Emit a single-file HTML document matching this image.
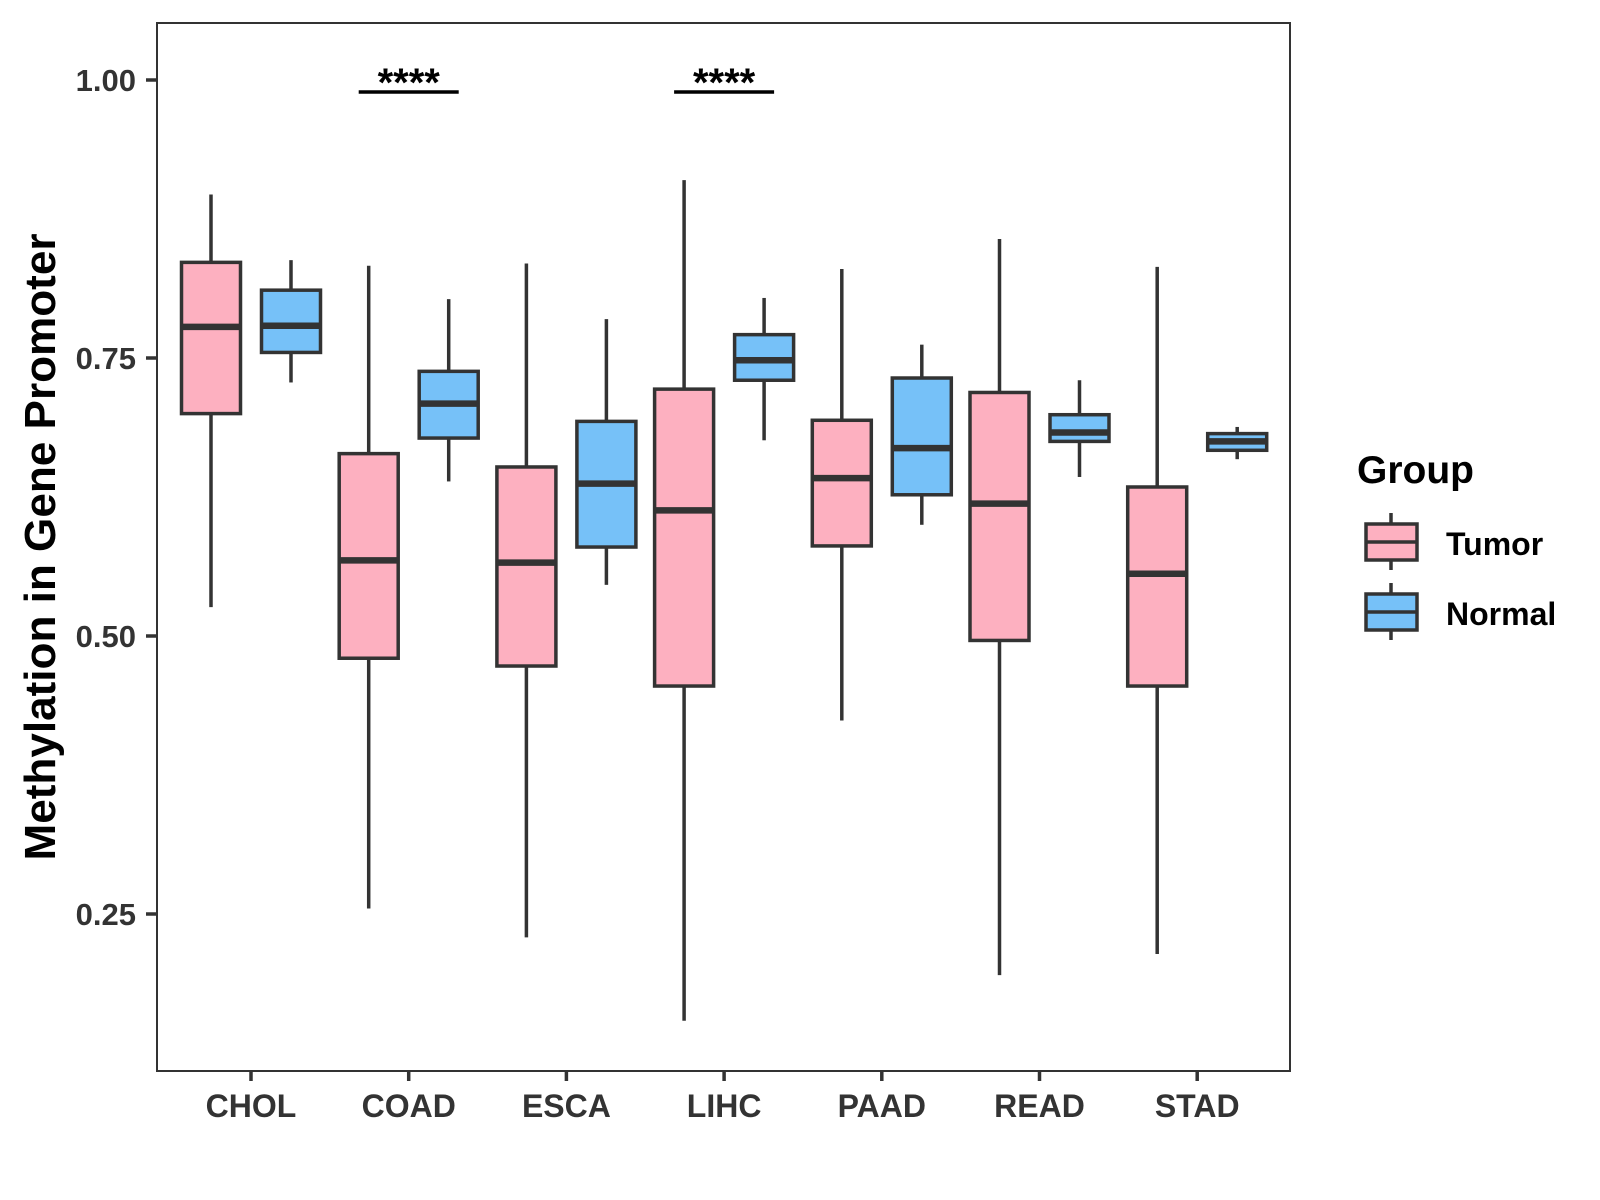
<!DOCTYPE html>
<html><head><meta charset="utf-8"><style>
html,body{margin:0;padding:0;background:#fff;}
svg{display:block;font-family:"Liberation Sans",Arial,sans-serif;}
</style></head><body>
<svg id="chart" width="1600" height="1200" viewBox="0 0 1600 1200" xmlns="http://www.w3.org/2000/svg">
<rect x="157" y="23" width="1133" height="1048" fill="#fff" stroke="#333" stroke-width="2"/>
<g id="marks"></g>
<g id="axes"></g>
<text transform="translate(55,547) rotate(-90)" text-anchor="middle" font-size="44" font-weight="bold" fill="#000" textLength="627" lengthAdjust="spacingAndGlyphs">Methylation in Gene Promoter</text>
<g>
<text x="1357" y="483" font-size="39" font-weight="bold" fill="#000">Group</text>
<line x1="1391" y1="513" x2="1391" y2="570" stroke="#333" stroke-width="3.5"/>
<rect x="1366" y="524" width="51" height="36" fill="#FDB0C0" stroke="#333" stroke-width="3.5"/>
<line x1="1366" y1="542" x2="1417" y2="542" stroke="#333" stroke-width="3.5"/>
<text x="1446" y="555" font-size="32" font-weight="bold" fill="#000">Tumor</text>
<line x1="1391" y1="583" x2="1391" y2="640" stroke="#333" stroke-width="3.5"/>
<rect x="1366" y="594" width="51" height="36" fill="#76C1F8" stroke="#333" stroke-width="3.5"/>
<line x1="1366" y1="612" x2="1417" y2="612" stroke="#333" stroke-width="3.5"/>
<text x="1446" y="625" font-size="32" font-weight="bold" fill="#000">Normal</text>
</g>
</svg>
<script>
const categories = ["CHOL","COAD","ESCA","LIHC","PAAD","READ","STAD"];
// [lowWhisker, q1, median, q3, highWhisker]
const tumorStats = [
 [0.526,0.700,0.778,0.836,0.897],
 [0.255,0.480,0.568,0.664,0.833],
 [0.229,0.473,0.566,0.652,0.835],
 [0.154,0.455,0.613,0.722,0.910],
 [0.424,0.581,0.642,0.694,0.830],
 [0.195,0.496,0.619,0.719,0.857],
 [0.214,0.455,0.556,0.634,0.832]
];
const normalStats = [
 [0.728,0.755,0.779,0.811,0.838],
 [0.639,0.678,0.709,0.738,0.803],
 [0.546,0.580,0.637,0.693,0.785],
 [0.676,0.730,0.748,0.771,0.804],
 [0.600,0.627,0.669,0.732,0.762],
 [0.643,0.675,0.683,0.699,0.730],
 [0.659,0.667,0.675,0.682,0.688]
];
const yTicks = [0.25,0.50,0.75,1.00];
const yTickLabels = ["0.25","0.50","0.75","1.00"];
const sigCategories = ["COAD","LIHC"];
const sigLabels = ["****","****"];

const NS="http://www.w3.org/2000/svg";
function yScale(v){return 80+(1-v)*1112;}
function xScale(i){return 251+i*157.7;}
function mk(tag,attrs,parent){const e=document.createElementNS(NS,tag);for(const k in attrs)e.setAttribute(k,attrs[k]);parent.appendChild(e);return e;}
const marks=document.getElementById('marks'), axes=document.getElementById('axes');
const BW=59;
function drawBox(cx,s,fill,name){
  const g=mk('g',{},marks);
  
  
  mk('line',{x1:cx,x2:cx,y1:yScale(s[4]),y2:yScale(s[3]),stroke:'#333','stroke-width':3.5},g);
  mk('line',{x1:cx,x2:cx,y1:yScale(s[1]),y2:yScale(s[0]),stroke:'#333','stroke-width':3.5},g);
  mk('rect',{x:cx-BW/2,y:yScale(s[3]),width:BW,height:yScale(s[1])-yScale(s[3]),fill:fill,stroke:'#333','stroke-width':3.5},g);
  mk('line',{x1:cx-BW/2,x2:cx+BW/2,y1:yScale(s[2]),y2:yScale(s[2]),stroke:'#333','stroke-width':6.5},g);
}
categories.forEach((c,i)=>{
  drawBox(xScale(i)-40,tumorStats[i],'#FDB0C0','box-tumor-'+c.toLowerCase());
  drawBox(xScale(i)+40,normalStats[i],'#76C1F8','box-normal-'+c.toLowerCase());
  const t=mk('line',{x1:xScale(i),x2:xScale(i),y1:1071,y2:1081,stroke:'#333','stroke-width':3.5},axes);
  
  
  const l=mk('text',{x:xScale(i),y:1117,'text-anchor':'middle','font-size':32,'font-weight':'bold',fill:'#333'},axes);
  
  
  l.textContent=c;
});
yTicks.forEach((v,i)=>{
  const t=mk('line',{x1:146,x2:157,y1:yScale(v),y2:yScale(v),stroke:'#333','stroke-width':3.5},axes);
  
  
  const l=mk('text',{x:136,y:yScale(v)+11,'text-anchor':'end','font-size':31,'font-weight':'bold',fill:'#333'},axes);
  
  
  l.textContent=yTickLabels[i];
});
sigCategories.forEach((c,k)=>{
  const i=categories.indexOf(c); const cx=xScale(i);
  const b=mk('line',{x1:cx-50,x2:cx+50,y1:92,y2:92,stroke:'#000','stroke-width':3.5},marks);
  
  
  const s=mk('text',{x:cx,y:96,'text-anchor':'middle','font-size':40,'font-weight':'bold',fill:'#000'},marks);
  
  
  s.textContent=sigLabels[k];
});
</script>
</body></html>
